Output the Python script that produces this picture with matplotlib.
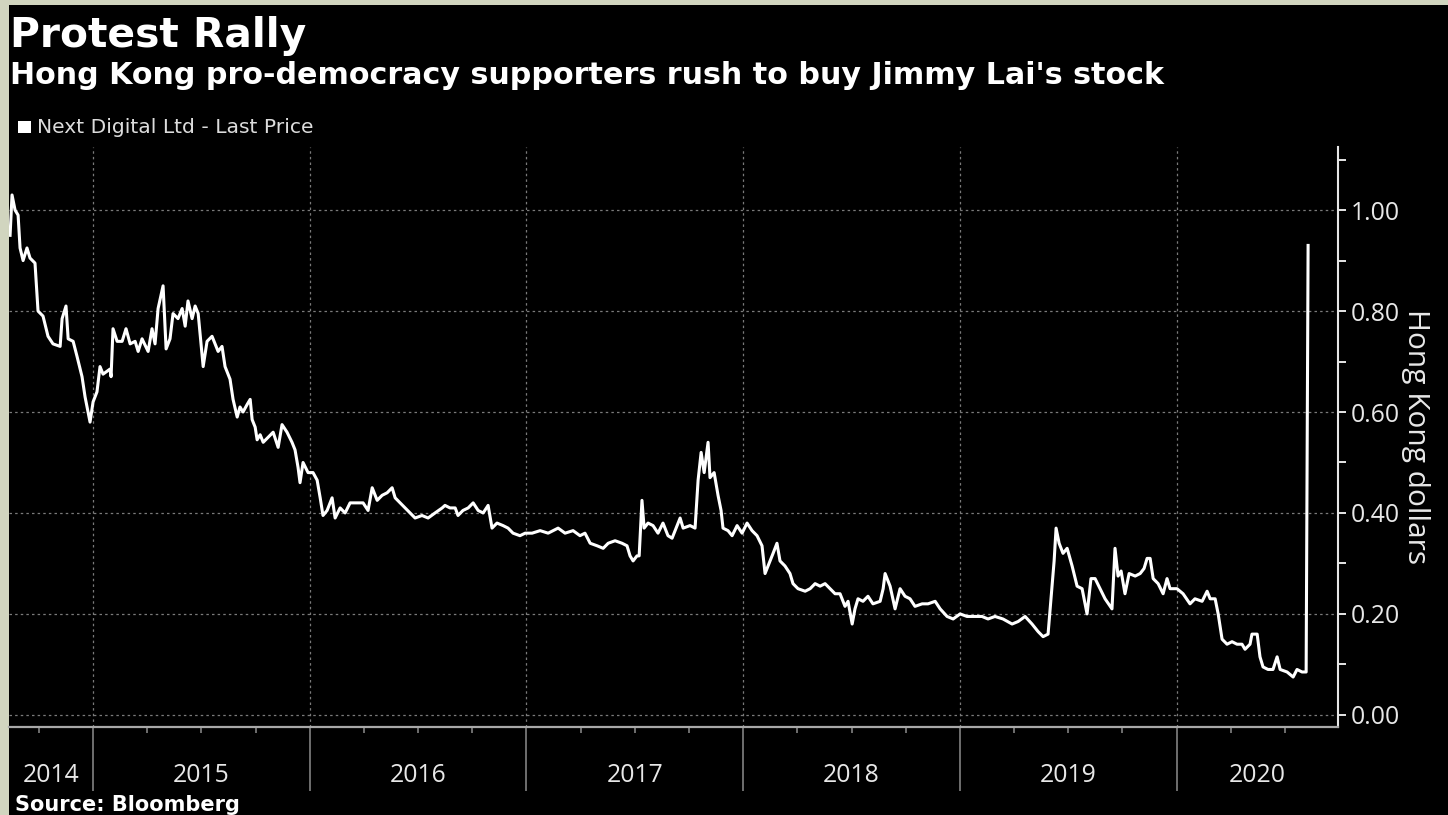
import matplotlib
matplotlib.use("Agg")
import matplotlib.pyplot as plt
import matplotlib.transforms as mtransforms
from matplotlib.patches import Rectangle
from matplotlib.ticker import FixedLocator, NullFormatter, FuncFormatter

# ---------------- data (decimal year, HK$ last price) ----------------
years = [
    2014.617, 2014.626, 2014.640, 2014.654, 2014.663, 2014.677, 2014.695, 2014.709, 2014.732, 2014.746,
    2014.769, 2014.792, 2014.815, 2014.848, 2014.857, 2014.875, 2014.885, 2014.908, 2014.926, 2014.949,
    2014.963, 2014.986, 2015.000, 2015.018, 2015.032, 2015.046, 2015.078, 2015.083, 2015.092, 2015.111,
    2015.134, 2015.152, 2015.171, 2015.194, 2015.208, 2015.226, 2015.254, 2015.272, 2015.286, 2015.300,
    2015.323, 2015.337, 2015.355, 2015.369, 2015.392, 2015.411, 2015.425, 2015.438, 2015.457, 2015.471,
    2015.485, 2015.508, 2015.526, 2015.549, 2015.577, 2015.595, 2015.609, 2015.632, 2015.646, 2015.665,
    2015.678, 2015.692, 2015.711, 2015.725, 2015.734, 2015.748, 2015.757, 2015.771, 2015.785, 2015.808,
    2015.831, 2015.854, 2015.872, 2015.895, 2015.918, 2015.932, 2015.946, 2015.955, 2015.969, 2015.992,
    2016.015, 2016.034, 2016.048, 2016.061, 2016.080, 2016.103, 2016.117, 2016.140, 2016.163, 2016.186,
    2016.218, 2016.246, 2016.269, 2016.288, 2016.311, 2016.334, 2016.357, 2016.380, 2016.394, 2016.417,
    2016.440, 2016.463, 2016.486, 2016.518, 2016.546, 2016.578, 2016.611, 2016.624, 2016.647, 2016.671,
    2016.684, 2016.707, 2016.731, 2016.754, 2016.777, 2016.800, 2016.823, 2016.841, 2016.864, 2016.892,
    2016.915, 2016.938, 2016.970, 2016.994, 2017.026, 2017.063, 2017.100, 2017.146, 2017.178, 2017.215,
    2017.247, 2017.270, 2017.294, 2017.326, 2017.354, 2017.377, 2017.409, 2017.441, 2017.464, 2017.478,
    2017.492, 2017.510, 2017.520, 2017.533, 2017.543, 2017.561, 2017.584, 2017.607, 2017.630, 2017.653,
    2017.672, 2017.686, 2017.709, 2017.723, 2017.755, 2017.778, 2017.792, 2017.806, 2017.820, 2017.838,
    2017.847, 2017.866, 2017.884, 2017.898, 2017.907, 2017.930, 2017.949, 2017.972, 2017.995, 2018.018,
    2018.041, 2018.064, 2018.087, 2018.101, 2018.115, 2018.138, 2018.156, 2018.170, 2018.193, 2018.216,
    2018.230, 2018.253, 2018.286, 2018.309, 2018.332, 2018.355, 2018.378, 2018.401, 2018.424, 2018.447,
    2018.470, 2018.484, 2018.503, 2018.516, 2018.530, 2018.553, 2018.576, 2018.599, 2018.632, 2018.646,
    2018.655, 2018.678, 2018.701, 2018.724, 2018.747, 2018.770, 2018.793, 2018.826, 2018.853, 2018.886,
    2018.909, 2018.941, 2018.969, 2019.001, 2019.033, 2019.070, 2019.102, 2019.130, 2019.162, 2019.199,
    2019.241, 2019.269, 2019.301, 2019.333, 2019.361, 2019.384, 2019.407, 2019.426, 2019.435, 2019.444,
    2019.458, 2019.476, 2019.495, 2019.518, 2019.541, 2019.564, 2019.587, 2019.605, 2019.624, 2019.647,
    2019.670, 2019.702, 2019.716, 2019.730, 2019.744, 2019.762, 2019.781, 2019.809, 2019.832, 2019.850,
    2019.864, 2019.878, 2019.892, 2019.915, 2019.938, 2019.956, 2019.970, 2020.002, 2020.030, 2020.062,
    2020.085, 2020.118, 2020.141, 2020.155, 2020.178, 2020.192, 2020.210, 2020.233, 2020.256, 2020.279,
    2020.302, 2020.316, 2020.339, 2020.348, 2020.372, 2020.385, 2020.399, 2020.422, 2020.445, 2020.464,
    2020.478, 2020.510, 2020.538, 2020.556, 2020.579, 2020.598, 2020.607,
]
price = [
    0.95, 1.03, 1.00, 0.99, 0.925, 0.90, 0.925, 0.905, 0.895, 0.80,
    0.79, 0.75, 0.735, 0.73, 0.785, 0.81, 0.745, 0.74, 0.71, 0.67,
    0.63, 0.58, 0.62, 0.64, 0.69, 0.675, 0.685, 0.67, 0.765, 0.74,
    0.74, 0.765, 0.735, 0.74, 0.72, 0.745, 0.72, 0.765, 0.735, 0.805,
    0.85, 0.725, 0.745, 0.795, 0.785, 0.805, 0.77, 0.82, 0.785, 0.81,
    0.795, 0.69, 0.74, 0.75, 0.72, 0.73, 0.69, 0.665, 0.625, 0.59,
    0.61, 0.60, 0.615, 0.625, 0.585, 0.57, 0.545, 0.555, 0.54, 0.55,
    0.56, 0.53, 0.575, 0.56, 0.54, 0.525, 0.49, 0.46, 0.50, 0.48,
    0.48, 0.465, 0.43, 0.395, 0.405, 0.43, 0.39, 0.41, 0.40, 0.42,
    0.42, 0.42, 0.405, 0.45, 0.425, 0.435, 0.44, 0.45, 0.43, 0.42,
    0.41, 0.40, 0.39, 0.395, 0.39, 0.40, 0.41, 0.415, 0.41, 0.41,
    0.395, 0.405, 0.41, 0.42, 0.405, 0.40, 0.415, 0.37, 0.38, 0.375,
    0.37, 0.36, 0.355, 0.36, 0.36, 0.365, 0.36, 0.37, 0.36, 0.365,
    0.355, 0.36, 0.34, 0.335, 0.33, 0.34, 0.345, 0.34, 0.335, 0.315,
    0.305, 0.315, 0.315, 0.425, 0.37, 0.38, 0.375, 0.36, 0.38, 0.355,
    0.35, 0.365, 0.39, 0.37, 0.375, 0.37, 0.465, 0.52, 0.48, 0.54,
    0.47, 0.48, 0.435, 0.405, 0.37, 0.365, 0.355, 0.375, 0.36, 0.38,
    0.365, 0.355, 0.335, 0.28, 0.295, 0.32, 0.34, 0.305, 0.295, 0.28,
    0.26, 0.25, 0.245, 0.25, 0.26, 0.255, 0.26, 0.25, 0.24, 0.24,
    0.215, 0.225, 0.18, 0.21, 0.23, 0.225, 0.235, 0.22, 0.225, 0.25,
    0.28, 0.255, 0.21, 0.25, 0.235, 0.23, 0.215, 0.22, 0.22, 0.225,
    0.21, 0.195, 0.19, 0.20, 0.195, 0.195, 0.195, 0.19, 0.195, 0.19,
    0.18, 0.185, 0.195, 0.18, 0.165, 0.155, 0.16, 0.26, 0.305, 0.37,
    0.34, 0.32, 0.33, 0.295, 0.255, 0.25, 0.20, 0.27, 0.27, 0.25,
    0.23, 0.21, 0.33, 0.275, 0.285, 0.24, 0.28, 0.275, 0.28, 0.29,
    0.31, 0.31, 0.27, 0.26, 0.24, 0.27, 0.25, 0.25, 0.24, 0.22,
    0.23, 0.225, 0.245, 0.23, 0.23, 0.20, 0.15, 0.14, 0.145, 0.14,
    0.14, 0.13, 0.14, 0.16, 0.16, 0.115, 0.095, 0.09, 0.09, 0.115,
    0.09, 0.085, 0.075, 0.09, 0.085, 0.085, 0.93,
]
assert len(years) == len(price)

year_labels = ["2014", "2015", "2016", "2017", "2018", "2019", "2020"]
y_ticks = [0.0, 0.2, 0.4, 0.6, 0.8, 1.0]

title = "Protest Rally"
subtitle = "Hong Kong pro-democracy supporters rush to buy Jimmy Lai's stock"
series_name = "Next Digital Ltd - Last Price"
y_title = "Hong Kong dollars"
source = "Source: Bloomberg"

# ---------------- layout ----------------
W, H = 1448, 815
BORDER = "#d1d5bf"
TXT = "#e8e8e8"
GRID = "#7a7a7a"
REG = "Open Sans"

fig = plt.figure(figsize=(W / 100, H / 100), dpi=100, facecolor=BORDER)
fig.patches.append(Rectangle((9 / W, 0), 1 - 9 / W, 1 - 5 / H, transform=fig.transFigure,
                             facecolor="black", edgecolor="none", zorder=-10))

x0, x1 = 2014.612, 2020.745
ax = fig.add_axes([9 / W, 1 - 727 / H, (1338 - 9) / W, (727 - 147) / H])
ax.set_zorder(2)
ax.set_facecolor("black")
ax.plot(years, price, color="white", lw=2.2, solid_joinstyle="round", zorder=3, label=series_name)
ax.set_xlim(x0, x1)
ax.set_ylim(-0.024, 1.125)

for s in ["top", "left"]:
    ax.spines[s].set_visible(False)
ax.spines["right"].set_color("#e6e6e6")
ax.spines["right"].set_linewidth(1.5)
ax.spines["bottom"].set_color("#a8a8a8")
ax.spines["bottom"].set_linewidth(1.6)

# y axis on the right
ax.yaxis.tick_right()
ax.yaxis.set_label_position("right")
ax.set_yticks(y_ticks)
ax.yaxis.set_major_formatter(FuncFormatter(lambda v, _: f"{v:.2f}"))
ax.yaxis.set_minor_locator(FixedLocator([0.1, 0.3, 0.5, 0.7, 0.9, 1.1]))
ax.tick_params(axis="y", which="both", direction="out", color="#e6e6e6", width=1.4,
               labelcolor=TXT, labelsize=17.8, pad=3)
ax.tick_params(axis="y", which="major", length=6)
ax.tick_params(axis="y", which="minor", length=6)
for lab in ax.get_yticklabels():
    lab.set_fontfamily(REG)
ax.set_ylabel(y_title, rotation=270, color=TXT, fontsize=21.5, family=REG, labelpad=22)

# x axis: year separators + quarterly ticks
year_bounds = [2015, 2016, 2017, 2018, 2019, 2020]
ax.set_xticks(year_bounds)
ax.xaxis.set_major_formatter(NullFormatter())
quarters = [y + q for y in range(2014, 2021) for q in (0.25, 0.5, 0.75)
            if x0 < y + q < x1]
ax.xaxis.set_minor_locator(FixedLocator(quarters))
ax.tick_params(axis="x", which="major", direction="out", length=46, width=1.1, color="#8c8c8c")
ax.tick_params(axis="x", which="minor", direction="out", length=4, width=1.1, color="#8c8c8c")

edges = [x0] + year_bounds + [x1]
trans = mtransforms.blended_transform_factory(ax.transData, ax.transAxes)
for lab, a, b in zip(year_labels, edges[:-1], edges[1:]):
    ax.text((a + b) / 2, -48 / 580, lab, transform=trans, ha="center", va="center",
            color=TXT, fontsize=17.8, family=REG)

ax.grid(True, which="major", color=GRID, linestyle=(0, (2, 2.5)), linewidth=0.9, zorder=1)
ax.set_axisbelow(True)

# ---------------- texts ----------------
fig.text(10 / W, 1 - 47 / H, title, fontsize=29.3, weight="bold", family="DejaVu Sans",
         color="white", va="baseline", ha="left")
fig.text(10 / W, 1 - 84 / H, subtitle, fontsize=21.7, weight="bold", family="DejaVu Sans",
         color="white", va="baseline", ha="left")
fig.patches.append(Rectangle((18 / W, 1 - 133 / H), 13 / W, 12 / H, transform=fig.transFigure,
                             facecolor="white", edgecolor="none", zorder=2))
fig.text(37 / W, 1 - 133 / H, series_name, fontsize=14.6, family="DejaVu Sans", color="#dcdcdc",
         va="baseline", ha="left")
fig.text(15 / W, 1 - 811 / H, source, fontsize=15, weight="bold", family="DejaVu Sans",
         color="white", va="baseline", ha="left")

fig.savefig("out.png", dpi=100, facecolor=BORDER)
